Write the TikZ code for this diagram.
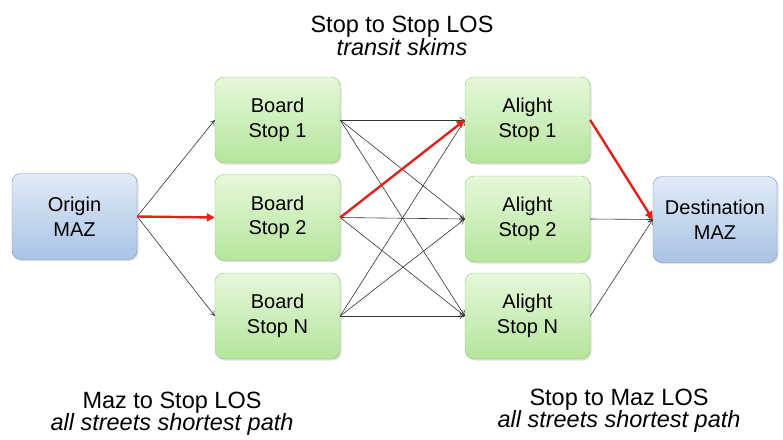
\documentclass[tikz,border=0pt]{standalone}
\usepackage{fontspec}
\setmainfont{Liberation Sans}
\usetikzlibrary{arrows.meta,shadows}
\definecolor{gfillT}{HTML}{E6F8DA}
\definecolor{gfillB}{HTML}{B5E59C}
\definecolor{gdraw}{HTML}{8FC57A}
\definecolor{bfillT}{HTML}{E1EBF7}
\definecolor{bfillB}{HTML}{A9C3E5}
\definecolor{bdraw}{HTML}{7393BF}
\definecolor{redarr}{HTML}{E3211C}
\begin{document}
\begin{tikzpicture}[x=1pt,y=-1pt,
  box/.style={rounded corners=9pt, minimum width=125pt, minimum height=86pt, align=center,
    font=\fontsize{20}{24.5}\selectfont, inner sep=0pt,
    drop shadow={shadow xshift=1.5pt, shadow yshift=-1.5pt, opacity=0.25}},
  gbox/.style={box, draw=gdraw, top color=gfillT, bottom color=gfillB},
  bbox/.style={box, draw=bdraw, top color=bfillT, bottom color=bfillB},
  thin arr/.style={draw=black!80, line width=0.6pt, -{To[length=5pt,width=6pt]}},
  red arr/.style={draw=redarr, line width=2.4pt, -{Triangle[length=8pt,width=8pt]}},
  lbl/.style={font=\fontsize{23.5}{28}\selectfont, anchor=base, inner sep=0pt}]
\useasboundingbox (0,0) rectangle (783,439);

\node[bbox] (O) at (74.5,216.5) {Origin\\MAZ};
\node[gbox] (B1) at (277.5,120) {Board\\Stop 1};
\node[gbox] (B2) at (277.5,217.5) {Board\\Stop 2};
\node[gbox] (BN) at (277.5,316) {Board\\Stop N};
\node[gbox] (A1) at (527.5,120) {Alight\\Stop 1};
\node[gbox] (A2) at (527.5,219) {Alight\\Stop 2};
\node[gbox] (AN) at (527.5,316) {Alight\\Stop N};
\node[bbox, minimum width=124pt] (D) at (715,219.5) {Destination\\MAZ};

% origin to board
\draw[thin arr] (O.east) -- (B1.west);
\draw[thin arr] (O.east) -- (BN.west);
% board to alight
\draw[thin arr] (B1.east) -- (A1.west);
\draw[thin arr] (B1.east) -- (A2.west);
\draw[thin arr] (B1.east) -- (AN.west);
\draw[thin arr] (B2.east) -- (A2.west);
\draw[thin arr] (B2.east) -- (AN.west);
\draw[thin arr] (BN.east) -- (A1.west);
\draw[thin arr] (BN.east) -- (A2.west);
\draw[thin arr] (BN.east) -- (AN.west);
% alight to destination
\draw[thin arr] (A2.east) -- (D.west);
\draw[thin arr] (AN.east) -- (D.west);
% highlighted path
\draw[red arr] (O.east) -- (B2.west);
\draw[red arr] (B2.east) -- (A1.west);
\draw[red arr] (A1.east) -- (D.west);

\node[lbl] (t1) at (402,32) {Stop to Stop LOS};
\node[lbl] (t2) at (402,55) {\itshape transit skims};
\node[lbl] (l1) at (172,408) {Maz to Stop LOS};
\node[lbl] (l2) at (172,430) {\itshape all streets shortest path};
\node[lbl] (r1) at (619,405) {Stop to Maz LOS};
\node[lbl] (r2) at (619,427) {\itshape all streets shortest path};
\end{tikzpicture}
\end{document}
